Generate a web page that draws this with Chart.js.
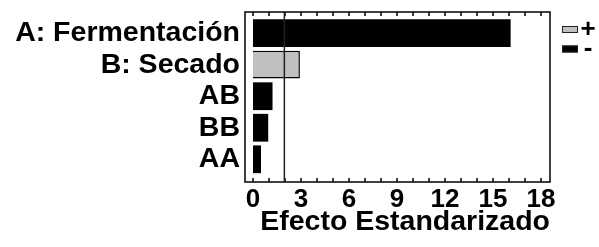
<!DOCTYPE html>
<html>
<head>
<meta charset="utf-8">
<script src="https://cdn.jsdelivr.net/npm/chart.js@4"></script>
<style>
  html, body { margin: 0; padding: 0; background: #fff; }
  canvas { display: block; }
</style>
</head>
<body>
<canvas id="pareto" width="599" height="247"></canvas>
<script>
// Diagrama de Pareto estandarizado
var factores = ['A: Fermentación', 'B: Secado', 'AB', 'BB', 'AA'];
var efectoPositivo = [null, 2.93, null, null, null];
var efectoNegativo = [16.1, null, 1.22, 0.95, 0.5];
var valorCritico = 1.96;
var ticksX = [0, 3, 6, 9, 12, 15, 18];
var menoresX = [0, 1, 2, 3, 4, 5, 6, 7, 8, 9, 10, 11, 12, 13, 14, 15, 16, 17, 18];

var FONT = '"Liberation Sans", Arial, sans-serif';

function puntos(valores) {
  return valores.map(function(v, i) { return { x: v, y: i }; });
}

// marco, marcas menores, linea del valor critico y leyenda
var marco = {
  id: 'marco',
  afterDatasetsDraw: function(chart) {
    var c = chart.ctx, a = chart.chartArea, x = chart.scales.x;
    c.save();
    c.strokeStyle = '#000';
    c.lineWidth = 1.5;
    c.strokeRect(a.left, a.top, a.right - a.left, a.bottom - a.top);
    c.lineWidth = 1.5;
    menoresX.forEach(function(v) {
      var px = x.getPixelForValue(v);
      c.beginPath();
      c.moveTo(px, a.top); c.lineTo(px, a.top + 4);
      c.moveTo(px, a.bottom); c.lineTo(px, a.bottom - 4);
      c.stroke();
    });
    var xc = x.getPixelForValue(valorCritico);
    c.strokeStyle = '#222';
    c.lineWidth = 1.5;
    c.beginPath();
    c.moveTo(xc, a.top); c.lineTo(xc, a.bottom);
    c.stroke();

    // leyenda
    c.font = 'bold 26px ' + FONT;
    c.textBaseline = 'middle';
    c.textAlign = 'center';
    chart.data.datasets.forEach(function(ds, i) {
      var y = 26 + i * 19.5;
      c.fillStyle = ds.backgroundColor;
      c.fillRect(a.right + 12, y, 16, 7);
      c.strokeStyle = '#222';
      c.lineWidth = 1;
      c.strokeRect(a.right + 12.5, y + 0.5, 15, 6);
      c.fillStyle = '#000';
      c.fillText(ds.label, a.right + 38, y + 3.5);
    });
    c.restore();
  }
};

new Chart(document.getElementById('pareto'), {
  type: 'bar',
  data: {
    datasets: [{
      label: '+',
      data: puntos(efectoPositivo),
      backgroundColor: '#c0c0c0',
      borderColor: '#000',
      borderWidth: 1.5
    }, {
      label: '-',
      data: puntos(efectoNegativo),
      backgroundColor: '#000',
      borderColor: '#000',
      borderWidth: 0
    }]
  },
  options: {
    indexAxis: 'y',
    responsive: false,
    animation: false,
    devicePixelRatio: 1,
    layout: { padding: { top: 12, left: 0, right: 49, bottom: 0 } },
    datasets: { bar: { categoryPercentage: 1, barPercentage: 0.88, grouped: false } },
    plugins: {
      legend: { display: false },
      tooltip: { enabled: false }
    },
    scales: {
      x: {
        type: 'linear',
        min: -0.5,
        max: 18.56,
        afterBuildTicks: function(s) { s.ticks = ticksX.map(function(v) { return { value: v }; }); },
        afterFit: function(s) { s.height = 65; s.paddingLeft = 0; s.paddingRight = 0; },
        grid: { display: false, drawTicks: false },
        border: { display: false },
        ticks: {
          padding: 2,
          color: '#000',
          font: { family: FONT, size: 26, weight: 'bold' }
        },
        title: {
          display: true,
          text: 'Efecto Estandarizado',
          align: 'end',
          color: '#000',
          padding: { top: 0, bottom: 8 },
          font: { family: FONT, size: 28.5, weight: 'bold' }
        }
      },
      y: {
        type: 'linear',
        reverse: true,
        offset: false,
        min: -0.67,
        max: 4.72,
        afterBuildTicks: function(s) { s.ticks = factores.map(function(f, i) { return { value: i }; }); },
        afterFit: function(s) { s.width = 245; s.paddingTop = 0; s.paddingBottom = 0; },
        grid: { display: false, drawTicks: false },
        border: { display: false },
        ticks: {
          autoSkip: false,
          padding: 5,
          color: '#000',
          font: { family: FONT, size: 28.5, weight: 'bold' },
          callback: function(v) { return factores[v]; }
        }
      }
    }
  },
  plugins: [marco]
});
</script>
</body>
</html>
